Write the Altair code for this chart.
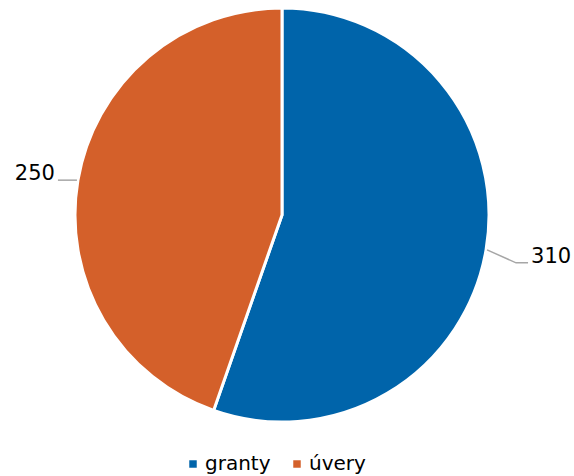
import altair as alt
import pandas as pd
import numpy as np

# ---- data ----
categories = ["granty", "úvery"]
values = [310, 250]
colors = ["#0064AA", "#D4602A"]

# ---- layout constants ----
W, H = 564, 430          # view size; pie centred in it
R = 207                  # pie radius
FONT = "DejaVu Sans"
# leader geometry per label (elbow offset from edge point, horizontal run, side)
leader_style = {
    "granty": dict(edx=29, edy=13, hlen=12, side=1),
    "úvery": dict(edx=-3, edy=0, hlen=16, side=-1),
}

df = pd.DataFrame({"category": categories, "value": values})

# derive label anchor points from the slice angles
total = float(sum(values))
cum = np.cumsum(values) / total * 2 * np.pi
start = cum - np.array(values) / total * 2 * np.pi
mid = (start + cum) / 2
cx, cy = W / 2, H / 2

line_rows, label_rows = [], []
for cat, val, m in zip(categories, values, mid):
    st = leader_style[cat]
    ex, ey = cx + (R + 1) * np.sin(m), cy - (R + 1) * np.cos(m)
    bx, by = ex + st["edx"], ey + st["edy"]
    fx, fy = bx + st["side"] * st["hlen"], by
    for i, (px, py) in enumerate([(ex, ey), (bx, by), (fx, fy)]):
        line_rows.append({"category": cat, "i": i, "px": px, "py": py})
    label_rows.append({"category": cat, "label": str(val),
                       "px": fx + st["side"] * 3, "py": fy,
                       "side": "right" if st["side"] > 0 else "left"})
lines = pd.DataFrame(line_rows)
labels = pd.DataFrame(label_rows)

pie = alt.Chart(df).mark_arc(outerRadius=R, stroke="white", strokeWidth=3).encode(
    theta=alt.Theta("value:Q", stack=True),
    color=alt.Color(
        "category:N",
        scale=alt.Scale(domain=categories, range=colors),
        legend=alt.Legend(
            title=None, orient="none", legendX=183, legendY=454,
            direction="horizontal", columns=2, symbolType="square",
            symbolSize=56, symbolStrokeWidth=0, labelFont=FONT,
            labelFontSize=20, labelColor="#000000", labelOffset=2,
            columnPadding=16,
        ),
    ),
    order=alt.Order("i:Q"),
).transform_calculate(i="indexof(['granty','úvery'], datum.category)")

leader = alt.Chart(lines).mark_line(color="#A6A6A6", strokeWidth=1.5).encode(
    x=alt.X("px:Q", scale=None),
    y=alt.Y("py:Q", scale=None),
    detail="category:N",
    order="i:Q",
)

lab_r = alt.Chart(labels).transform_filter("datum.side == 'right'").mark_text(
    align="left", baseline="alphabetic", font=FONT, fontSize=21, color="#000000"
).encode(x=alt.X("px:Q", scale=None), y=alt.Y("py:Q", scale=None), text="label:N")

lab_l = alt.Chart(labels).transform_filter("datum.side == 'left'").mark_text(
    align="right", baseline="alphabetic", font=FONT, fontSize=21, color="#000000"
).encode(x=alt.X("px:Q", scale=None), y=alt.Y("py:Q", scale=None), text="label:N")

chart = alt.layer(pie, leader, lab_r, lab_l).properties(
    width=W, height=H,
    background="white",
    autosize=alt.AutoSizeParams(type="none"),
    padding={"left": 0, "top": 0, "right": 574 - W, "bottom": 476 - H},
).configure_view(strokeWidth=0, stroke="transparent")

chart.save("out.html", embed_options={"renderer": "svg", "actions": False})
